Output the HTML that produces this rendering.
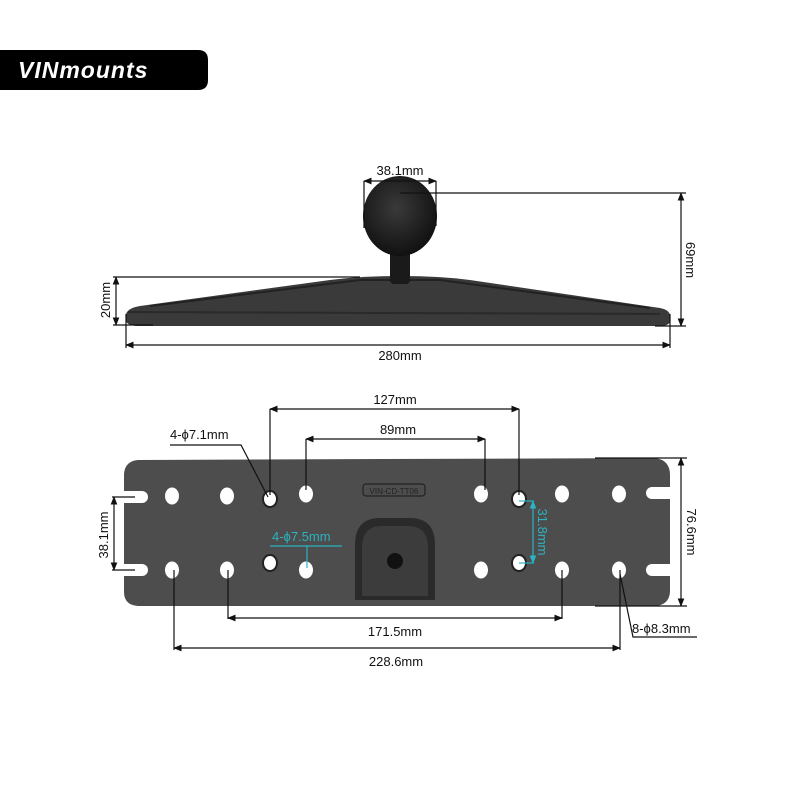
<!DOCTYPE html>
<html><head><meta charset="utf-8"><style>
html,body{margin:0;padding:0;background:#fff;}
svg{display:block;}
text{font-family:"Liberation Sans",sans-serif;font-size:13px;fill:#111;}
</style></head><body>
<svg width="800" height="800" viewBox="0 0 800 800" xmlns="http://www.w3.org/2000/svg">
<defs>
<radialGradient id="ball" cx="0.45" cy="0.4" r="0.6"><stop offset="0" stop-color="#3a3a3a"/><stop offset="1" stop-color="#111"/></radialGradient>
<marker id="a" viewBox="0 0 10 10" refX="9" refY="5" markerWidth="7" markerHeight="7" orient="auto-start-reverse"><path d="M0,1 L10,5 L0,9 z" fill="#111"/></marker>
<marker id="c" viewBox="0 0 10 10" refX="9" refY="5" markerWidth="7" markerHeight="7" orient="auto-start-reverse"><path d="M0,1 L10,5 L0,9 z" fill="#2bb3c0"/></marker>
</defs>
<path d="M0,50 H198 Q208,50 208,60 V80 Q208,90 198,90 H0 Z" fill="#000"/>
<text x="18" y="78" style="font-size:23px;font-weight:bold;font-style:italic;fill:#fff;letter-spacing:1px">VINmounts</text>

<path d="M126,314 Q128,308 140,306 L330,280 Q360,276 400,276 Q440,276 470,280 L660,308 Q670,310 670,316 L670,322 Q668,326 660,326 L136,326 Q126,325 126,320 Z" fill="#3a3a3a"/>
<path d="M128,312 L660,314" stroke="#2a2a2a" stroke-width="2" fill="none"/>
<path d="M150,306 L360,280 L440,280 L650,308" stroke="#222" stroke-width="2" fill="none"/>
<rect x="390" y="250" width="20" height="34" rx="4" fill="#1a1a1a"/>
<ellipse cx="400" cy="216" rx="37" ry="40" fill="url(#ball)"/>

<g stroke="#111" stroke-width="1.2" fill="none">
<line x1="364" y1="181" x2="364" y2="228"/><line x1="436" y1="181" x2="436" y2="226"/>
<line x1="364" y1="181" x2="436" y2="181" marker-start="url(#a)" marker-end="url(#a)"/>
<line x1="400" y1="193" x2="686" y2="193"/><line x1="655" y1="326" x2="686" y2="326"/>
<line x1="681" y1="193" x2="681" y2="326" marker-start="url(#a)" marker-end="url(#a)"/>
<line x1="113" y1="277" x2="360" y2="277"/><line x1="113" y1="325" x2="153" y2="325"/>
<line x1="116" y1="277" x2="116" y2="325" marker-start="url(#a)" marker-end="url(#a)"/>
<line x1="126" y1="314" x2="126" y2="348"/><line x1="670" y1="314" x2="670" y2="348"/>
<line x1="126" y1="345" x2="670" y2="345" marker-start="url(#a)" marker-end="url(#a)"/>
</g>
<text x="400" y="175" text-anchor="middle">38.1mm</text>
<text x="400" y="360" text-anchor="middle">280mm</text>
<text transform="translate(686,260) rotate(90)" text-anchor="middle">69mm</text>
<text transform="translate(110,300) rotate(-90)" text-anchor="middle">20mm</text>

<path d="M138,460 L655,458 Q670,460 670,475 L670,487 L656,487 L656,487 L652,487 A6,6 0 0 0 652,499 L670,499 L670,564 L652,564 A6,6 0 0 0 652,576 L670,576 L670,592 Q669,605 655,606 L138,606 Q124,605 124,592 L124,576 L142,576 A6,6 0 0 0 142,564 L124,564 L124,503 L142,503 A6,6 0 0 0 142,491 L124,491 L124,474 Q125,461 138,460 Z" fill="#4d4d4d"/>
<path d="M355,600 L355,545 Q355,518 380,518 L410,518 Q435,518 435,545 L435,600 Z" fill="#2a2a2a"/>
<path d="M362,596 L362,548 Q362,526 382,526 L408,526 Q428,526 428,548 L428,596 Z" fill="#3c3c3c"/>
<circle cx="395" cy="561" r="8" fill="#111"/>
<rect x="363" y="484" width="62" height="12" rx="3" fill="none" stroke="#222" stroke-width="1.2"/>
<text x="394" y="494" text-anchor="middle" style="font-size:8px;fill:#222">VIN-CD-TT06</text>
<g fill="#fff">
<ellipse cx="172" cy="496" rx="7" ry="8.5"/><ellipse cx="227" cy="496" rx="7" ry="8.5"/>
<ellipse cx="306" cy="494" rx="7" ry="8.5"/><ellipse cx="481" cy="494" rx="7" ry="8.5"/>
<ellipse cx="562" cy="494" rx="7" ry="8.5"/><ellipse cx="619" cy="494" rx="7" ry="8.5"/>
<ellipse cx="172" cy="570" rx="7" ry="8.5"/><ellipse cx="227" cy="570" rx="7" ry="8.5"/>
<ellipse cx="306" cy="570" rx="7" ry="8.5"/><ellipse cx="481" cy="570" rx="7" ry="8.5"/>
<ellipse cx="562" cy="570" rx="7" ry="8.5"/><ellipse cx="619" cy="570" rx="7" ry="8.5"/>
</g>
<g fill="#fff" stroke="#222" stroke-width="2">
<ellipse cx="270" cy="499" rx="7" ry="8"/><ellipse cx="270" cy="563" rx="7" ry="8"/>
<ellipse cx="519" cy="499" rx="7" ry="8"/><ellipse cx="519" cy="563" rx="7" ry="8"/>
</g>

<g stroke="#111" stroke-width="1.2" fill="none">
<line x1="270" y1="409" x2="270" y2="495"/><line x1="519" y1="409" x2="519" y2="495"/>
<line x1="270" y1="409" x2="519" y2="409" marker-start="url(#a)" marker-end="url(#a)"/>
<line x1="306" y1="439" x2="306" y2="490"/><line x1="485" y1="439" x2="485" y2="490"/>
<line x1="306" y1="439" x2="485" y2="439" marker-start="url(#a)" marker-end="url(#a)"/>
<polyline points="170,445 241,445 268,497"/>
<line x1="112" y1="497" x2="135" y2="497"/><line x1="112" y1="570" x2="135" y2="570"/>
<line x1="114" y1="497" x2="114" y2="570" marker-start="url(#a)" marker-end="url(#a)"/>
<line x1="595" y1="458" x2="687" y2="458"/><line x1="595" y1="606" x2="687" y2="606"/>
<line x1="681" y1="458" x2="681" y2="606" marker-start="url(#a)" marker-end="url(#a)"/>
<line x1="228" y1="570" x2="228" y2="619"/><line x1="562" y1="570" x2="562" y2="619"/>
<line x1="228" y1="618" x2="562" y2="618" marker-start="url(#a)" marker-end="url(#a)"/>
<line x1="174" y1="570" x2="174" y2="650"/><line x1="620" y1="570" x2="620" y2="650"/>
<line x1="174" y1="648" x2="620" y2="648" marker-start="url(#a)" marker-end="url(#a)"/>
<polyline points="620,574 633,637 697,637"/>
</g>
<g stroke="#2bb3c0" stroke-width="1.2" fill="none">
<line x1="519" y1="501" x2="534" y2="501"/><line x1="519" y1="563" x2="534" y2="563"/>
<line x1="533" y1="501" x2="533" y2="563" marker-start="url(#c)" marker-end="url(#c)"/>
<line x1="270" y1="546" x2="342" y2="546"/><line x1="307" y1="546" x2="307" y2="568"/>
</g>
<text x="395" y="404" text-anchor="middle">127mm</text>
<text x="398" y="434" text-anchor="middle">89mm</text>
<text x="170" y="439">4-ϕ7.1mm</text>
<text transform="translate(108,535) rotate(-90)" text-anchor="middle">38.1mm</text>
<text transform="translate(687,532) rotate(90)" text-anchor="middle">76.6mm</text>
<text transform="translate(538,532) rotate(90)" text-anchor="middle" style="fill:#2bb3c0">31.8mm</text>
<text x="272" y="541" style="fill:#2bb3c0">4-ϕ7.5mm</text>
<text x="395" y="636" text-anchor="middle">171.5mm</text>
<text x="396" y="666" text-anchor="middle">228.6mm</text>
<text x="632" y="633">8-ϕ8.3mm</text>
</svg>
</body></html>
